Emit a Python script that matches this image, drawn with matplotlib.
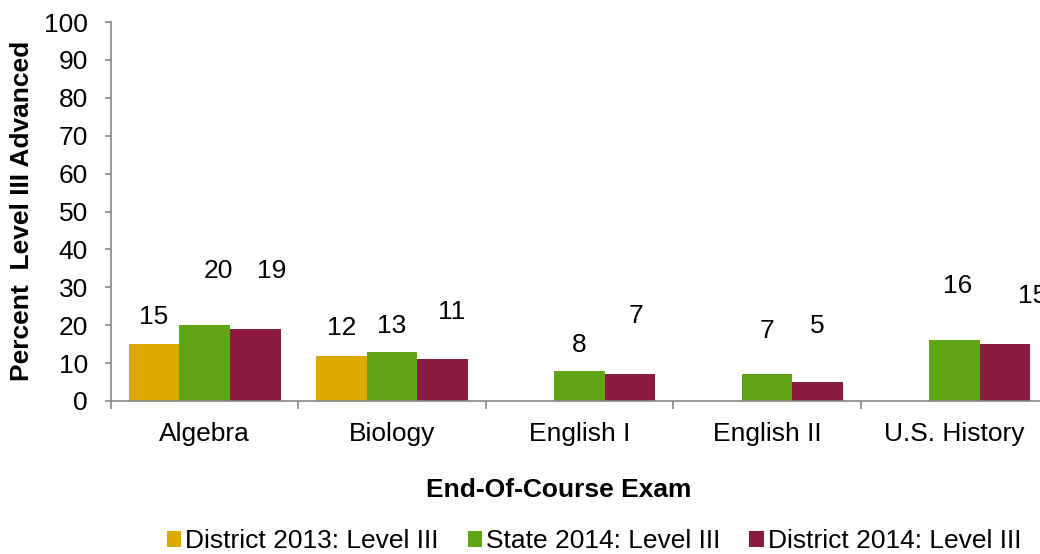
import numpy as np
import matplotlib.pyplot as plt

plt.rcParams['font.family'] = ['Liberation Sans', 'DejaVu Sans']

# Data
exams = ['Algebra', 'Biology', 'English I', 'English II', 'U.S. History']
district_2013 = [15, 12, np.nan, np.nan, np.nan]
state_2014 = [20, 13, 8, 7, 16]
district_2014 = [19, 11, 7, 5, 15]
series_names = ['District 2013: Level III', 'State 2014: Level III', 'District 2014: Level III']
colors = ['#DDA800', '#5FA516', '#8B1C40']

# hand-placed value labels (as in the original): height in data units, x shift in category units
label_y = [[22.2, 19.3, None, None, None],
           [34.3, 19.8, 14.8, 18.5, 30.3],
           [34.3, 23.5, 22.4, 19.8, 27.7]]
label_dx = [[0, 0, 0, 0, 0],
            [0.07, 0, 0, 0, 0.02],
            [0.09, 0.05, 0.03, 0, 0.15]]

fig = plt.figure(figsize=(10.4, 5.54), dpi=100)
ax = fig.add_axes([111 / 1040, 1 - 401 / 554, (1048 - 111) / 1040, (401 - 22) / 554])

x = np.arange(len(exams))
w = 0.27
all_series = [district_2013, state_2014, district_2014]
handles = []
for k, (vals, c) in enumerate(zip(all_series, colors)):
    pos = x + (k - 1) * w
    b = ax.bar(pos, vals, width=w, color=c, label=series_names[k], zorder=2)
    handles.append(b)
    for i, v in enumerate(vals):
        if np.isnan(v):
            continue
        ax.text(pos[i] + label_dx[k][i], label_y[k][i], f'{v:g}', ha='center', va='center',
                fontsize=19, color='black', clip_on=False)

ax.set_xlim(-0.5, len(exams) - 0.5)
ax.set_ylim(0, 100)
ax.set_yticks(range(0, 101, 10))
ax.set_xticks(x)
ax.set_xticklabels(exams)
ax.set_xticks(np.arange(-0.5, len(exams)), minor=True)
ax.tick_params(axis='x', which='major', length=0, pad=15, labelsize=19)
ax.tick_params(axis='x', which='minor', length=6, color='#888888', width=1.2)
ax.tick_params(axis='y', length=4.5, color='#888888', width=1.2, labelsize=19, pad=12)

for s in ['top', 'right']:
    ax.spines[s].set_visible(False)
for s in ['left', 'bottom']:
    ax.spines[s].set_color('#888888')
    ax.spines[s].set_linewidth(1.2)

fig.text(22 / 1040, 1 - 211 / 554, 'Percent  Level III Advanced', rotation=90, ha='center', va='center',
         fontsize=19, fontweight='bold')
fig.text(559 / 1040, 1 - 490 / 554, 'End-Of-Course Exam', ha='center', va='center',
         fontsize=19, fontweight='bold')

fig.legend(handles=handles, loc='center', bbox_to_anchor=(594 / 1040, 1 - 541 / 554), ncol=3,
           frameon=False, fontsize=19, handlelength=0.55, handleheight=0.55, handletextpad=0.15,
           columnspacing=1.1, borderpad=0)

fig.savefig('out.png', dpi=100)
